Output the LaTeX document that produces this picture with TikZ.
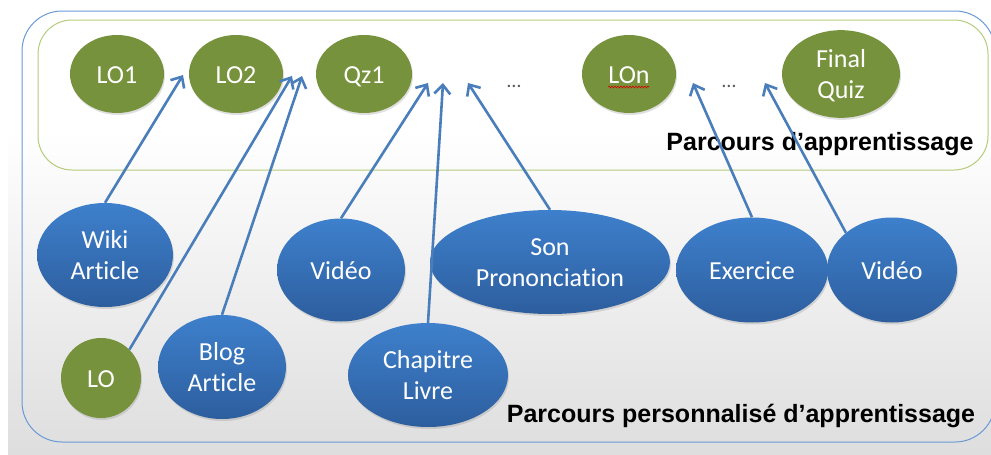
\documentclass[tikz,border=0pt]{standalone}
\usepackage{fontspec}
\setmainfont{Carlito}[Ligatures={NoCommon,NoContextual}]
\newfontfamily\labfont{Liberation Sans}
\usetikzlibrary{shapes.geometric,arrows.meta,shadows,decorations.pathmorphing}
\definecolor{bluetop}{HTML}{3E80CC}
\definecolor{bluebot}{HTML}{2D5E9E}
\definecolor{olive}{HTML}{76923C}
\definecolor{arrowblue}{HTML}{4A7EBB}
\definecolor{outerblue}{HTML}{6A9AD6}
\definecolor{innergreen}{HTML}{B5CC7A}
\newcommand\lnstrut{\rule[-6.5pt]{0pt}{31pt}}
\begin{document}
\begin{tikzpicture}[x=1pt,y=-1pt,
  eshadow/.style={drop shadow={opacity=0.25,shadow xshift=1pt,shadow yshift=-2pt}},
  blueell/.style={ellipse, inner sep=0pt, top color=bluetop, bottom color=bluebot,
    text=white, align=center, font=\fontsize{26}{31}\selectfont, eshadow},
  greenell/.style={ellipse, inner sep=0pt, fill=olive,
    text=white, align=center, font=\fontsize{26}{31}\selectfont, eshadow},
  pathlabel/.style={anchor=base, font=\labfont\bfseries\fontsize{25}{30}\selectfont, text=black, inner sep=0pt},
  dotslabel/.style={font=\fontsize{20}{24}\selectfont, text=black!65, inner sep=0pt},
  link/.style={draw=arrowblue, line width=2.6pt, -{Straight Barb[length=9pt,width=16pt]}}
]
\useasboundingbox (0,0) rectangle (991,455);
% background
\shade[top color=white, bottom color=black!13] (8,130) rectangle (991,455);
% frames
\draw[outerblue, line width=1pt, rounded corners=40pt] (22,11) rectangle (995,442);
\draw[innergreen, line width=1pt, rounded corners=34pt] (38,20) rectangle (988,170);

% learning path nodes
\node[greenell, minimum width=94pt, minimum height=78pt] (lo1) at (117,74) {\lnstrut LO1};
\node[greenell, minimum width=94pt, minimum height=78pt] (lo2) at (236,74) {\lnstrut LO2};
\node[greenell, minimum width=96pt, minimum height=78pt] (qz1) at (364,74) {\lnstrut Qz1};
\node[greenell, minimum width=94pt, minimum height=78pt] (lon) at (629,74) {\lnstrut LOn};
\node[greenell, minimum width=118pt, minimum height=78pt] (fq) at (841,74) {\lnstrut Final\\\lnstrut Quiz};
\node[dotslabel] (d1) at (514,86) {…};
\node[dotslabel] (d2) at (729,86) {…};
\draw[red!85!black, line width=0.6pt, decorate,
  decoration={snake, amplitude=0.9pt, segment length=3pt}] (lon.center) ++(-21,13) coordinate (sq1) -- ++(41,0) coordinate (sq2);

\node[pathlabel] (lab1) at (820,150) {Parcours d’apprentissage};
\node[pathlabel] (lab2) at (741,422) {Parcours personnalisé d’apprentissage};

% resources
\node[blueell, minimum width=136pt, minimum height=104pt] (wiki) at (105,255) {\lnstrut Wiki\\\lnstrut Article};
\node[greenell, minimum width=80pt, minimum height=80pt] (lo) at (101,378) {\lnstrut LO};
\node[blueell, minimum width=128pt, minimum height=104pt] (blog) at (222,367) {\lnstrut Blog\\\lnstrut Article};
\node[blueell, minimum width=128pt, minimum height=103pt] (vid1) at (341,270) {\lnstrut Vidéo};
\node[blueell, minimum width=160pt, minimum height=104pt] (chap) at (428,375) {\lnstrut Chapitre\\\lnstrut Livre};
\node[blueell, minimum width=240pt, minimum height=104pt] (son) at (550,262) {\lnstrut Son\\\lnstrut Prononciation};
\node[blueell, minimum width=152pt, minimum height=105pt] (ex) at (752,270) {\lnstrut Exercice};
\node[blueell, minimum width=130pt, minimum height=105pt] (vid2) at (892,270) {\lnstrut Vidéo};

% arrow targets
\coordinate (t1) at (183,75);
\coordinate (t2) at (292,76);
\coordinate (t3) at (302,76);
\coordinate (t4) at (428,83);
\coordinate (t5) at (443,83);
\coordinate (t6) at (468,83);
\coordinate (t7) at (693,83);
\coordinate (t8) at (765,83);

\draw[link] (wiki.north) -- (t1);
\draw[link] (lo.45) -- (t2);
\draw[link] (blog.north) -- (t3);
\draw[link] (vid1.north) -- (t4);
\draw[link] (chap.north) -- (t5);
\draw[link] (son.north) -- (t6);
\draw[link] (ex.north) -- (t7);
\draw[link] (vid2.north west) -- (t8);
\end{tikzpicture}
\end{document}
